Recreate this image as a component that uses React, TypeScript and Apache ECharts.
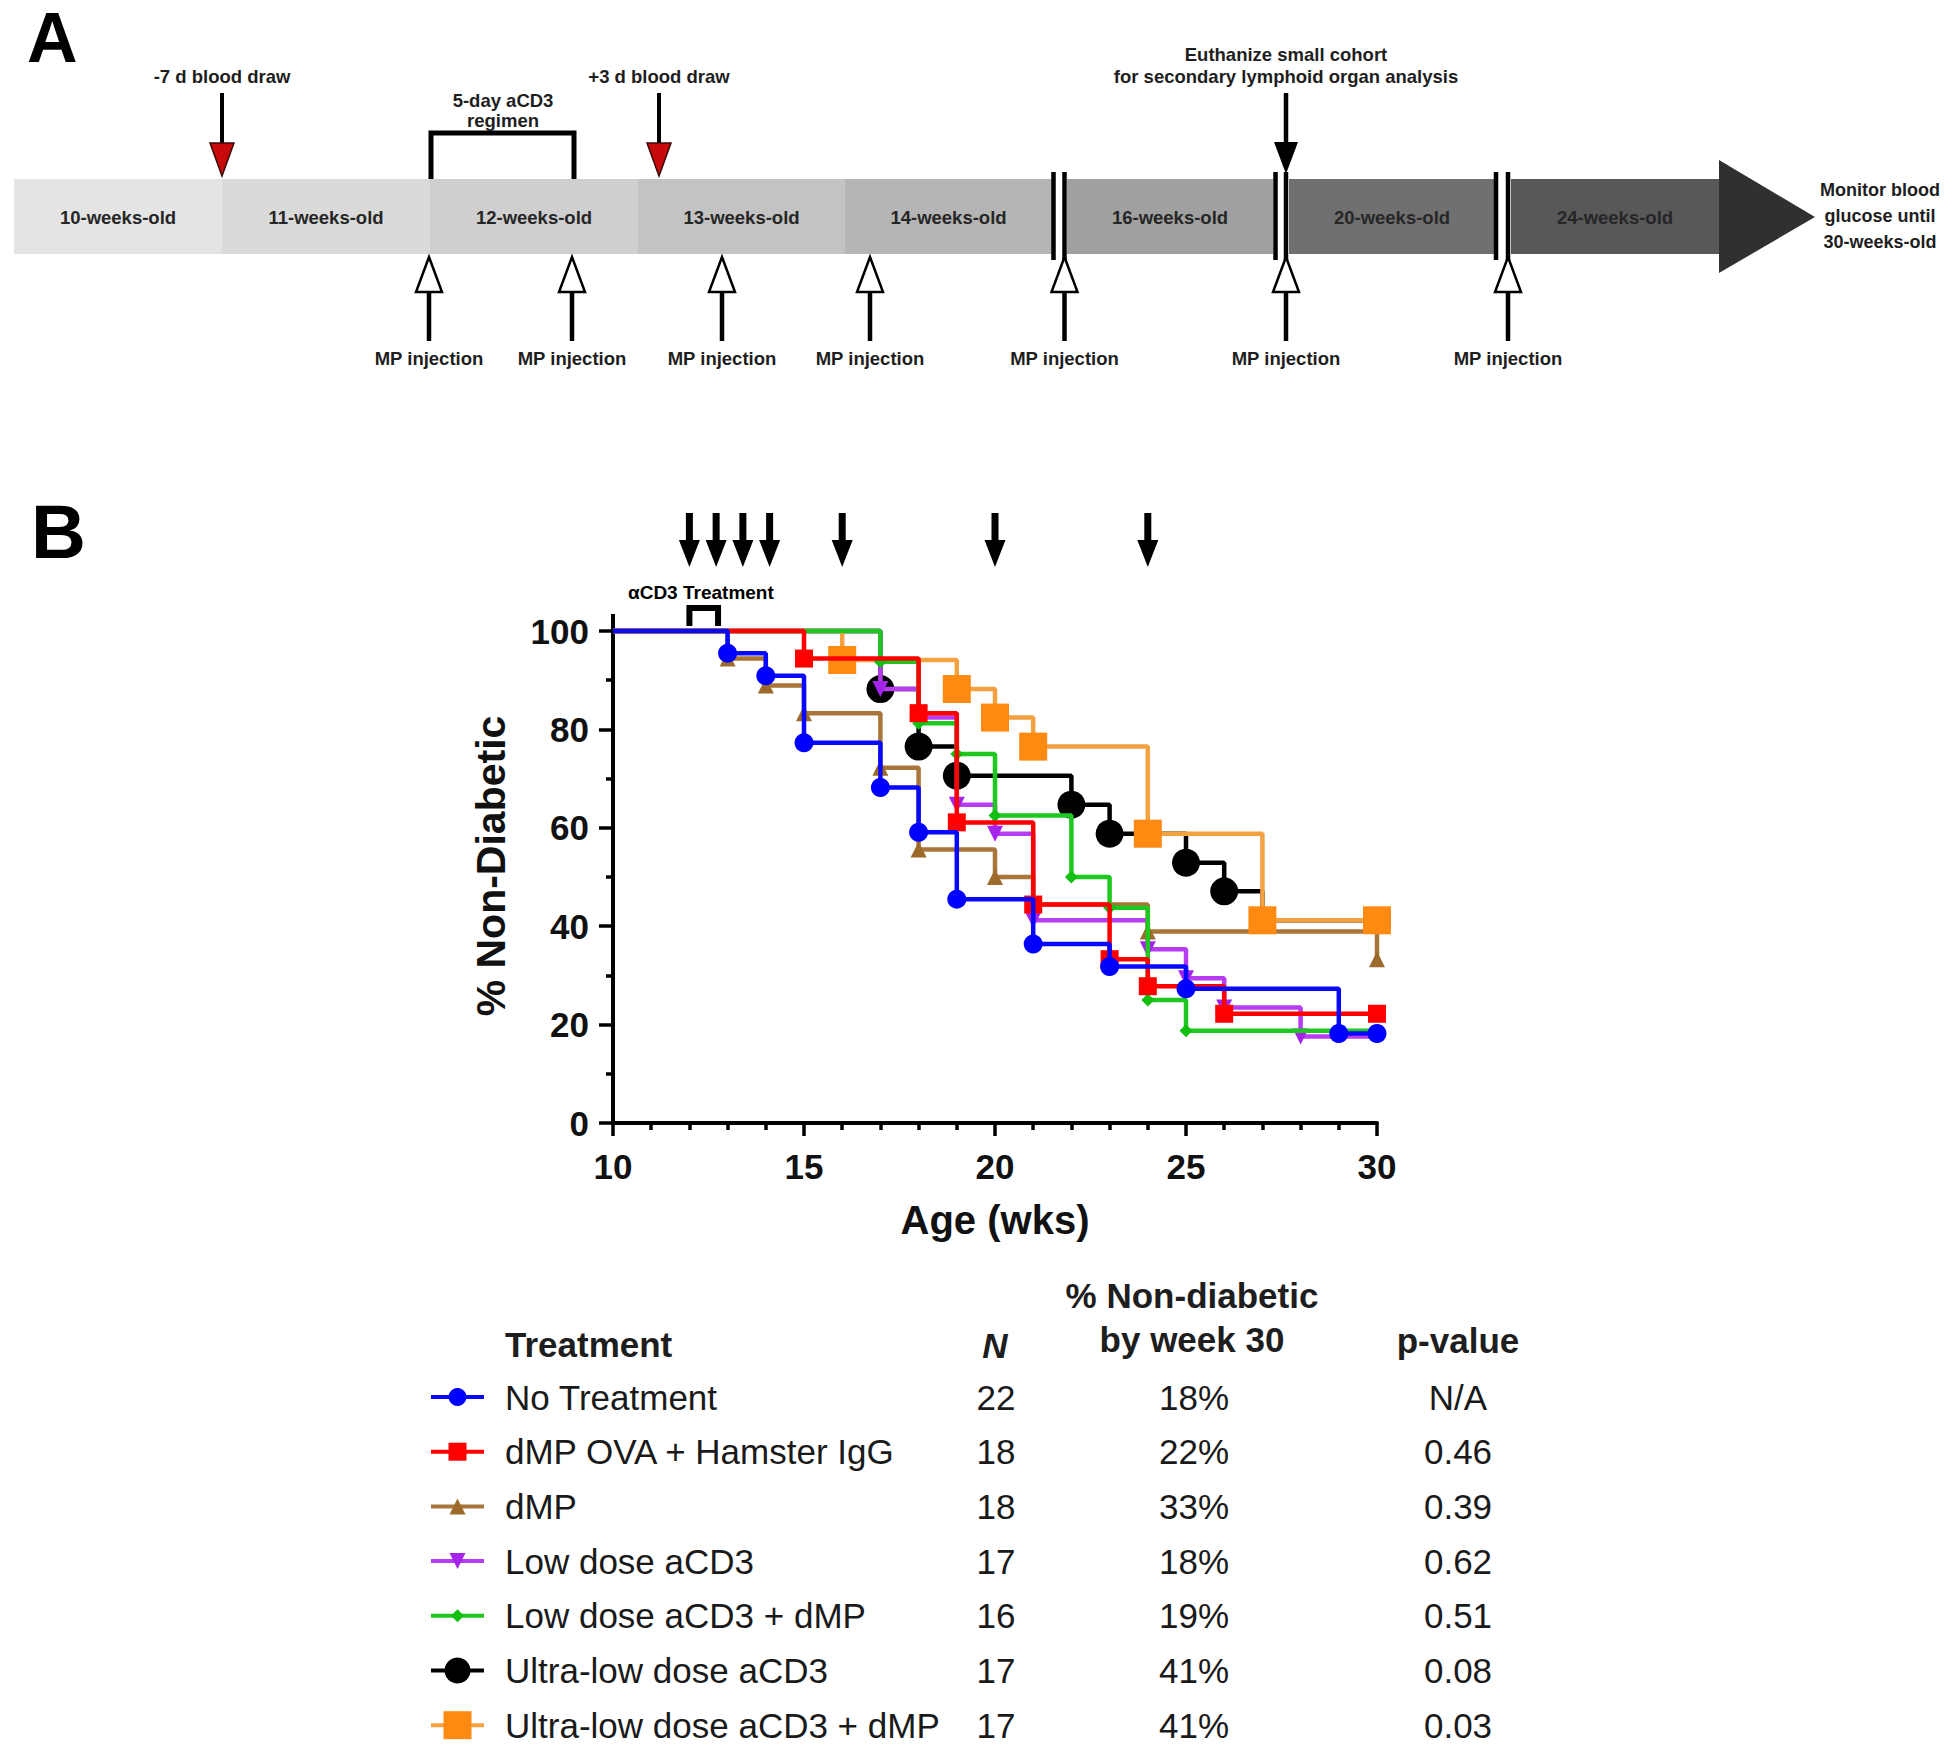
import React, { useEffect, useRef } from "react";
import * as echarts from "echarts";

const FONT = '"Liberation Sans", Arial, Helvetica, sans-serif';

// ---------- Panel A (timeline schematic) ----------
const timelineLabels = [
  "10-weeks-old",
  "11-weeks-old",
  "12-weeks-old",
  "13-weeks-old",
  "14-weeks-old",
  "16-weeks-old",
  "20-weeks-old",
  "24-weeks-old",
];
const bloodDrawLabels = ["-7 d blood draw", "+3 d blood draw"];
const regimenLabel = ["5-day aCD3", "regimen"];
const euthanizeLabel = ["Euthanize small cohort", "for secondary lymphoid organ analysis"];
const monitorLabel = ["Monitor blood", "glucose until", "30-weeks-old"];
const mpLabel = "MP injection";

// ---------- Panel B (survival curves) ----------
const injectionWeeks = [12, 12.7, 13.4, 14.1, 16, 20, 24];
const aCD3Weeks = [12, 12.75];
const aCD3Label = "αCD3 Treatment";
const xTitle = "Age (wks)";
const yTitle = "% Non-Diabetic";

const treatments = [
  "No Treatment",
  "dMP OVA + Hamster IgG",
  "dMP",
  "Low dose aCD3",
  "Low dose aCD3 + dMP",
  "Ultra-low dose aCD3",
  "Ultra-low dose aCD3 + dMP",
];
const groupN = ["22", "18", "18", "17", "16", "17", "17"];
const pctWeek30 = ["18%", "22%", "33%", "18%", "19%", "41%", "41%"];
const pValues = ["N/A", "0.46", "0.39", "0.62", "0.51", "0.08", "0.03"];
const tableHeaders = ["Treatment", "N", "% Non-diabetic", "by week 30", "p-value"];

// [week, % non-diabetic]
const noTreatment = [
  [10, 100], [13, 95.5], [14, 90.9], [15, 77.3], [17, 68.2], [18, 59.1],
  [19, 45.5], [21, 36.4], [23, 31.8], [25, 27.3], [29, 18.2], [30, 18.2],
];
const dmpOvaIgG = [
  [10, 100], [15, 94.4], [18, 83.3], [19, 61.1], [21, 44.4], [23, 33.3],
  [24, 27.8], [26, 22.2], [30, 22.2],
];
const dmpOnly = [
  [10, 100], [13, 94.4], [14, 88.9], [15, 83.3], [17, 72.2], [18, 55.6],
  [20, 50], [21, 44.4], [24, 38.9], [30, 33.3],
];
const lowDose = [
  [10, 100], [17, 88.2], [18, 82.4], [19, 64.7], [20, 58.8], [21, 41.2],
  [24, 35.3], [25, 29.4], [26, 23.5], [28, 17.6], [30, 17.6],
];
const lowDoseDmp = [
  [10, 100], [17, 93.75], [18, 81.25], [19, 75], [20, 62.5], [22, 50],
  [23, 43.75], [24, 25], [25, 18.75], [30, 18.75],
];
const ultraLow = [
  [10, 100], [17, 88.2], [18, 76.5], [19, 70.6], [22, 64.7], [23, 58.8],
  [25, 52.9], [26, 47.1], [27, 41.2], [30, 41.2],
];
const ultraLowDmp = [
  [10, 100], [16, 94.1], [19, 88.2], [20, 82.4], [21, 76.5], [24, 58.8],
  [27, 41.2], [30, 41.2],
];

const curves = [noTreatment, dmpOvaIgG, dmpOnly, lowDose, lowDoseDmp, ultraLow, ultraLowDmp];
const hiddenMarkers = [[0], [0], [0], [0, 10], [0, 9], [0, 8, 9], [0]];

const styles = [
  { line: "#0808ff", fill: "#0000ff", symbol: "circle", size: 19, rot: 0, legend: 18 },
  { line: "#ff0000", fill: "#ff0000", symbol: "rect", size: 18, rot: 0, legend: 18 },
  { line: "#a8763a", fill: "#9c6a2a", symbol: "triangle", size: 16, rot: 0, legend: 16 },
  { line: "#b83cf2", fill: "#a424ea", symbol: "triangle", size: 16, rot: 180, legend: 16 },
  { line: "#1ec81e", fill: "#12c012", symbol: "diamond", size: 13, rot: 0, legend: 13 },
  { line: "#000000", fill: "#000000", symbol: "circle", size: 28, rot: 0, legend: 26 },
  { line: "#f4a142", fill: "#ff8a12", symbol: "rect", size: 28, rot: 0, legend: 28 },
];
// bottom -> top
const drawOrder = [5, 3, 2, 6, 4, 1, 0];

export default function App() {
  const ref = useRef<HTMLDivElement>(null);

  useEffect(() => {
    document.body.style.margin = "0";
    const chart = echarts.init(ref.current!, null, { renderer: "svg" });

    const axisColor = "#000";
    const series = drawOrder.map((i, k) => ({
      type: "line",
      name: treatments[i],
      step: "end",
      clip: false,
      showAllSymbol: true,
      symbol: styles[i].symbol,
      symbolSize: styles[i].size,
      symbolRotate: styles[i].rot,
      data: curves[i].map((p, j) =>
        hiddenMarkers[i].includes(j) ? { value: p, symbol: "none" } : { value: p }
      ),
      lineStyle: { color: styles[i].line, width: 4.5 },
      itemStyle: { color: styles[i].fill },
      emphasis: { disabled: true },
      z: 2 + k,
    }));

    chart.setOption({
      animation: false,
      backgroundColor: "#ffffff",
      grid: { left: 613, top: 631, width: 764, height: 492, containLabel: false, outerBoundsMode: "none" },
      xAxis: {
        type: "value",
        min: 10,
        max: 30,
        interval: 5,
        axisLine: { show: true, onZero: false, lineStyle: { color: axisColor, width: 4 } },
        axisTick: { show: true, length: 13, lineStyle: { color: axisColor, width: 3.5 } },
        minorTick: { show: true, splitNumber: 5, length: 7, lineStyle: { color: axisColor, width: 3.5 } },
        splitLine: { show: false },
        minorSplitLine: { show: false },
        axisLabel: { fontSize: 35, fontWeight: "bold", color: "#111", margin: 26, fontFamily: FONT },
        name: xTitle,
        nameLocation: "middle",
        nameGap: 77,
        nameTextStyle: { fontSize: 40, fontWeight: "bold", color: "#111", fontFamily: FONT },
      },
      yAxis: {
        type: "value",
        min: 0,
        max: 100,
        interval: 20,
        axisLine: { show: true, onZero: false, lineStyle: { color: axisColor, width: 4 } },
        axisTick: { show: true, length: 14, lineStyle: { color: axisColor, width: 3.5 } },
        minorTick: { show: true, splitNumber: 2, length: 7, lineStyle: { color: axisColor, width: 3.5 } },
        splitLine: { show: false },
        minorSplitLine: { show: false },
        axisLabel: { fontSize: 35, fontWeight: "bold", color: "#111", margin: 24, fontFamily: FONT },
      },
      series,
    });

    const px = (w: number, v: number) => chart.convertToPixel({ gridIndex: 0 }, [w, v]) as number[];

    const g: any[] = [];
    const text = (x: number, y: number, t: string, size: number, extra: any = {}) =>
      g.push({
        type: "text",
        x,
        y,
        silent: true,
        z: 100,
        style: {
          text: t,
          fontSize: size,
          fontWeight: "bold",
          fontFamily: FONT,
          fill: "#1e1e1e",
          align: "center",
          verticalAlign: "middle",
          ...extra,
        },
      });
    const line = (x1: number, y1: number, x2: number, y2: number, w: number, color = "#000", z = 50) =>
      g.push({ type: "line", silent: true, z, shape: { x1, y1, x2, y2 }, style: { stroke: color, lineWidth: w } });
    const poly = (points: number[][], fill: string, stroke?: string, lw = 0, z = 60) =>
      g.push({ type: "polygon", silent: true, z, shape: { points }, style: { fill, stroke, lineWidth: lw } });
    const rect = (x: number, y: number, w: number, h: number, fill: string, z = 10) =>
      g.push({ type: "rect", silent: true, z, shape: { x, y, width: w, height: h }, style: { fill } });

    // ----- Panel A -----
    text(27, 3, "A", 70, { align: "left", verticalAlign: "top", fill: "#000" });

    const segStart = [14, 222, 430, 638, 845, 1067, 1289, 1511];
    const segEnd = [222, 430, 638, 845, 1052, 1273, 1495, 1719];
    const segColor = ["#e4e4e4", "#dadada", "#cfcfcf", "#c3c3c3", "#b5b5b5", "#a0a0a0", "#707070", "#585858"];
    const barTop = 179;
    const barBot = 254;
    segStart.forEach((s, i) => {
      rect(s, barTop, segEnd[i] - s, barBot - barTop, segColor[i]);
      text((s + segEnd[i]) / 2, 217, timelineLabels[i], 18.5, { fill: "#262626" });
    });
    poly([[1719, 160], [1815, 217], [1719, 273]], "#303030", undefined, 0, 12);
    text(1880, 190, monitorLabel[0], 18);
    text(1880, 216, monitorLabel[1], 18);
    text(1880, 242, monitorLabel[2], 18);

    // axis breaks
    const breaks = [[1053.5, 1064.5], [1275.5, 1286], [1496, 1508]];
    breaks.forEach(([a, b]) => {
      line(a, 172, a, 260, 4.5);
      line(b, 172, b, 260, 4.5);
    });

    // MP injection arrows (open heads)
    const mpX = [429, 572, 722, 870, 1064.5, 1286, 1508];
    mpX.forEach((x) => {
      line(x, 291, x, 341, 4.5);
      poly([[x, 257], [x + 13, 292], [x - 13, 292]], "#ffffff", "#000", 2.5, 61);
      text(x, 358, mpLabel, 18.5);
    });

    // blood draws (red heads)
    const bloodX = [222, 659];
    bloodX.forEach((x, i) => {
      text(x, 76, bloodDrawLabels[i], 18.5);
      line(x, 93, x, 145, 4);
      poly([[x - 12, 143], [x + 12, 143], [x, 176]], "#c80a0a", "#3a0a0a", 1.5, 61);
    });

    // 5-day regimen bracket
    g.push({
      type: "polyline",
      silent: true,
      z: 50,
      shape: { points: [[431, 179], [431, 133], [574, 133], [574, 179]] },
      style: { stroke: "#000", lineWidth: 5, fill: null },
    });
    text(503, 100, regimenLabel[0], 18.5);
    text(503, 120, regimenLabel[1], 18.5);

    // euthanize arrow
    text(1286, 54, euthanizeLabel[0], 18.5);
    text(1286, 76, euthanizeLabel[1], 18.5);
    line(1286, 93, 1286, 145, 4.5);
    poly([[1274, 142], [1298, 142], [1286, 174]], "#000", undefined, 0, 61);

    // ----- Panel B -----
    text(31, 531, "B", 76, { align: "left", fill: "#000" });

    injectionWeeks.forEach((w) => {
      const x = px(w, 100)[0];
      line(x, 513, x, 545, 7);
      poly([[x - 10.5, 540], [x + 10.5, 540], [x, 567]], "#000");
    });
    text(628, 592, aCD3Label, 19, { align: "left", fill: "#000" });
    {
      const xa = px(aCD3Weeks[0], 100)[0];
      const xb = px(aCD3Weeks[1], 100)[0];
      g.push({
        type: "polyline",
        silent: true,
        z: 50,
        shape: { points: [[xa, 626], [xa, 608], [xb, 608], [xb, 626]] },
        style: { stroke: "#000", lineWidth: 6, fill: null },
      });
    }
    {
      const [ax, ay] = px(10, 100);
      line(ax, ay - 17, ax, ay + 1, 4, "#000", 1);
      const [, y0] = px(10, 0);
      text(491, (ay + y0) / 2 - 11, yTitle, 41, { fill: "#111" });
      g[g.length - 1].rotation = Math.PI / 2;
    }

    // ----- Table / legend -----
    text(505, 1344, tableHeaders[0], 35, { align: "left" });
    text(995, 1345, tableHeaders[1], 35, { fontStyle: "italic" });
    text(1192, 1295, tableHeaders[2], 35);
    text(1192, 1339, tableHeaders[3], 35);
    text(1458, 1340, tableHeaders[4], 35);

    treatments.forEach((name, i) => {
      const y = 1397 + i * 54.7;
      const st = styles[i];
      line(431, y, 484, y, 4, st.line, 70);
      const cx = 457.5;
      const s = st.legend;
      const h = s / 2;
      if (st.symbol === "circle") {
        g.push({ type: "circle", silent: true, z: 71, shape: { cx, cy: y, r: h }, style: { fill: st.fill } });
      } else if (st.symbol === "rect") {
        rect(cx - h, y - h, s, s, st.fill, 71);
      } else if (st.symbol === "triangle" && st.rot === 0) {
        poly([[cx, y - h], [cx + h, y + h], [cx - h, y + h]], st.fill, undefined, 0, 71);
      } else if (st.symbol === "triangle") {
        poly([[cx - h, y - h], [cx + h, y - h], [cx, y + h]], st.fill, undefined, 0, 71);
      } else {
        poly([[cx, y - h], [cx + h, y], [cx, y + h], [cx - h, y]], st.fill, undefined, 0, 71);
      }
      text(505, y, name, 35, { align: "left", fontWeight: "normal", fill: "#1a1a1a" });
      text(996, y, groupN[i], 35, { fontWeight: "normal", fill: "#1a1a1a" });
      text(1194, y, pctWeek30[i], 35, { fontWeight: "normal", fill: "#1a1a1a" });
      text(1458, y, pValues[i], 35, { fontWeight: "normal", fill: "#1a1a1a" });
    });

    chart.setOption({ graphic: g });

    return () => chart.dispose();
  }, []);

  return <div ref={ref} style={{ width: 1950, height: 1752 }} />;
}
